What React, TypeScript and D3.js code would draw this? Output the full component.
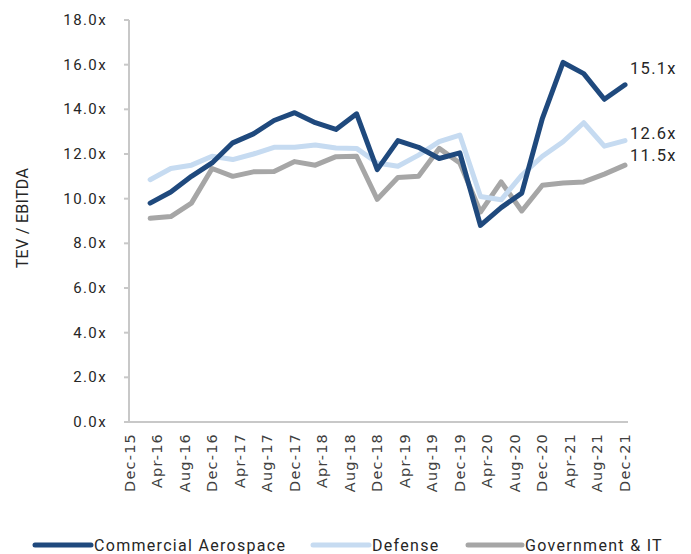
import React from "react";
import * as d3 from "d3";

const dates = [
  "2016-03", "2016-06", "2016-09", "2016-12",
  "2017-03", "2017-06", "2017-09", "2017-12",
  "2018-03", "2018-06", "2018-09", "2018-12",
  "2019-03", "2019-06", "2019-09", "2019-12",
  "2020-03", "2020-06", "2020-09", "2020-12",
  "2021-03", "2021-06", "2021-09", "2021-12",
];

const commercialAerospace = [
  9.8, 10.3, 11.0, 11.6, 12.5, 12.9, 13.5, 13.85, 13.4, 13.1, 13.8, 11.3,
  12.6, 12.3, 11.8, 12.05, 8.8, 9.6, 10.25, 13.6, 16.1, 15.6, 14.45, 15.1,
];
const defense = [
  10.85, 11.35, 11.5, 11.9, 11.75, 12.0, 12.3, 12.3, 12.4, 12.27, 12.25, 11.6,
  11.45, 11.95, 12.55, 12.85, 10.1, 9.95, 11.05, 11.9, 12.55, 13.4, 12.35, 12.6,
];
const governmentIT = [
  9.12, 9.2, 9.8, 11.35, 11.0, 11.2, 11.22, 11.66, 11.5, 11.88, 11.9, 9.97,
  10.95, 11.0, 12.25, 11.6, 9.4, 10.75, 9.45, 10.6, 10.7, 10.75, 11.1, 11.5,
];

const seriesNames = ["Commercial Aerospace", "Defense", "Government & IT"];
const seriesColors = ["#1f497d", "#c6dbf1", "#a6a6a6"];
const endLabels = ["15.1x", "12.6x", "11.5x"];
const yTicks = [0, 2, 4, 6, 8, 10, 12, 14, 16, 18];
const axisStart = "2015-12";
const axisEnd = "2021-12";
const xTickStepMonths = 4;
const yTitle = "TEV / EBITDA";

const parse = d3.utcParse("%Y-%m");
const fmt = d3.utcFormat("%b-%y");

export default function App() {
  const W = 691, H = 554;
  const start = parse(axisStart)!;
  const end = parse(axisEnd)!;
  const totalMonths = d3.utcMonth.count(start, end);
  const x = d3.scaleLinear().domain([0, totalMonths]).range([129.5, 625]);
  const mi = (d: Date) => d3.utcMonth.count(start, d);
  const y = d3.scaleLinear().domain([0, 18]).range([422, 20]);

  const series = [commercialAerospace, defense, governmentIT];
  const parsedDates = dates.map((d) => parse(d)!);
  const line = d3
    .line<number>()
    .x((_, i) => x(mi(parsedDates[i])))
    .y((v) => y(v));

  const xTicks = d3
    .range(0, totalMonths + 1, xTickStepMonths)
    .map((m) => d3.utcMonth.offset(start, m));

  const fontUI = "Roboto, sans-serif";
  const textCol = "#262626";

  const legend = [
    { lx: 35, tx: 94 },
    { lx: 313, tx: 372 },
    { lx: 468, tx: 525 },
  ];
  const endLabelY = [68, 133, 155];

  return (
    <div style={{ position: "absolute", left: 0, top: 0 }}>
      <svg width={W} height={H} style={{ display: "block", background: "#fff" }}>
        <line x1={129} x2={129} y1={20} y2={422} stroke="#c8c8c8" strokeWidth={2} />
        <line x1={124} x2={628} y1={y(0)} y2={y(0)} stroke="#c8c8c8" strokeWidth={2} />
        {yTicks.map((t) => (
          <g key={t}>
            <line x1={124} x2={129} y1={y(t)} y2={y(t)} stroke="#c8c8c8" strokeWidth={2} />
            <text
              x={107}
              y={y(t)}
              textAnchor="end"
              dominantBaseline="central"
              fontFamily={fontUI}
              fontSize={15}
              letterSpacing={1.4}
              fill={textCol}
            >
              {t.toFixed(1) + "x"}
            </text>
          </g>
        ))}
        {xTicks.map((d, i) => (
          <text
            key={i}
            transform={`translate(${x(mi(d))},433) rotate(-90)`}
            textAnchor="end"
            dominantBaseline="central"
            fontFamily="DejaVu Sans, sans-serif"
            fontSize={14.5}
            letterSpacing={1.2}
            fill="#404040"
          >
            {fmt(d)}
          </text>
        ))}
        <text
          transform={`translate(22,218) rotate(-90)`}
          textAnchor="middle"
          dominantBaseline="central"
          fontFamily={fontUI}
          fontSize={16}
          letterSpacing={0.3}
          fill={textCol}
        >
          {yTitle}
        </text>

        {[2, 1, 0].map((k) => (
          <path
            key={k}
            d={line(series[k]) || ""}
            fill="none"
            stroke={seriesColors[k]}
            strokeWidth={5}
            strokeLinejoin="round"
            strokeLinecap="round"
          />
        ))}

        {series.map((s, k) => (
          <text
            key={k}
            x={630}
            y={endLabelY[k]}
            dominantBaseline="central"
            fontFamily={fontUI}
            fontSize={16.5}
            letterSpacing={1.3}
            fill={textCol}
          >
            {endLabels[k]}
          </text>
        ))}

        {seriesNames.map((n, k) => (
          <g key={n}>
            <line
              x1={legend[k].lx}
              x2={legend[k].tx - 3}
              y1={545}
              y2={545}
              stroke={seriesColors[k]}
              strokeWidth={5}
              strokeLinecap="round"
            />
            <text
              x={legend[k].tx}
              y={545}
              dominantBaseline="central"
              fontFamily={fontUI}
              fontSize={16}
              letterSpacing={1.3}
              fill={textCol}
            >
              {n}
            </text>
          </g>
        ))}
      </svg>
    </div>
  );
}
